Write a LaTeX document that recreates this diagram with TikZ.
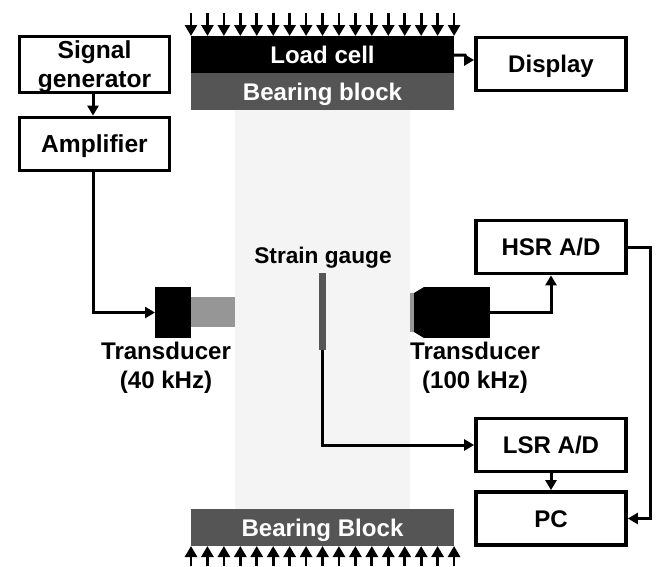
\documentclass[tikz,border=0pt]{standalone}
\usepackage{fontspec}
\setmainfont{Liberation Sans}
\usetikzlibrary{arrows.meta}
\definecolor{blockgray}{HTML}{555555}
\definecolor{horngray}{HTML}{969696}
\definecolor{samplegray}{HTML}{F4F4F4}
\tikzset{
	lbl/.style={font=\fontsize{13.7}{16.4}\selectfont\bfseries,align=center,inner sep=0pt},
	capline/.style={text height=9.8pt,text depth=0pt},
	box/.style={lbl,draw=black,fill=white,line width=0.075cm,minimum width=3.0cm,minimum height=1.06cm,outer sep=0.0375cm},
	block/.style={lbl,capline,text=white,minimum width=5.26cm,minimum height=0.74cm,inner sep=0pt,outer sep=0pt},
	conn/.style={line width=0.06cm,-{Triangle[length=0.2cm,width=0.22cm]}},
	load/.style={line width=0.055cm,-{Triangle[length=0.22cm,width=0.24cm]}}
}
\begin{document}
\begin{tikzpicture}[x=0.02cm,y=-0.02cm]
	\useasboundingbox (0,0) rectangle (660,566);

	% Draw the sample
	\fill [samplegray] (235,110) rectangle (410,509);

	% Draw the blocks
	\node [block,fill=black] (loadcell) at (322.5,54.5) {Load cell};
	\node [block,fill=blockgray] (bearingtop) at (322.5,91.5) {Bearing block};
	\node [block,fill=blockgray] (bearingbot) at (322.5,527.5) {Bearing Block};

	% Draw the boxes
	\node [box,font=\fontsize{14}{16.5}\selectfont\bfseries] (signal) at (94.5,64.5) {\rule{0pt}{12.5pt}Signal\\generator};
	\node [box,capline,font=\fontsize{14}{16.5}\selectfont\bfseries] (amp) at (94.5,144) {Amplifier};
	\node [box,capline] (display) at (551,64) {Display};
	\node [box,capline] (hsr) at (551,247) {HSR A/D};
	\node [box,capline] (lsr) at (551,445) {LSR A/D};
	\node [box,capline] (pc) at (551,518.5) {PC};

	% Draw the left transducer
	\node [fill=black,minimum width=0.72cm,minimum height=1.02cm,inner sep=0pt,outer sep=0pt] (srcbody) at (173,312.5) {};
	\node [fill=horngray,minimum width=0.88cm,minimum height=0.6cm,inner sep=0pt,outer sep=0pt] (srchorn) at (213,312) {};
	\node [lbl] (srclabel) at (166,368) {Transducer\\(40 kHz)};

	% Draw the right transducer
	\fill [horngray] (410,293) rectangle (414,332);
	\fill [black] (414,293) -- (424,287) -- (424,338) -- (414,332) -- cycle;
	\node [fill=black,minimum width=1.32cm,minimum height=1.02cm,inner sep=0pt,outer sep=0pt] (recbody) at (457,312.5) {};
	\node [lbl] (reclabel) at (475,368) {Transducer\\(100 kHz)};

	% Draw the strain gauge
	\node [fill=blockgray,minimum width=0.14cm,minimum height=1.54cm,inner sep=0pt,outer sep=0pt] (gauge) at (322.5,311.5) {};
	\node [lbl,font=\fontsize{12.9}{16}\selectfont\bfseries] (gaugelabel) at (323,258) {Strain gauge};

	% Draw the connectors
	\coordinate (lcout) at (454,55);
	\coordinate (lcbend) at (465,55);
	\coordinate (dispin) at (467,60);
	\draw [conn] (signal.south -| 93,0) -- (amp.north -| 93,0);
	\draw [conn] (lcout) -- (lcbend) -- (dispin) -- (dispin -| display.west);
	\draw [conn] (amp.south -| 93,0) |- (srcbody.west);
	\draw [conn] (recbody.east) -| (hsr.south);
	\draw [conn] (gauge.south) |- (lsr.west);
	\draw [conn] (lsr.south) -- (pc.north);
	\draw [conn] (hsr.east) -- ++(23,0) |- (pc.east);

	% Draw the load arrows
	\foreach \i in {0,...,16} {
		\coordinate (top\i) at (191+16.44*\i,13);
		\coordinate (bot\i) at (191+16.44*\i,566);
		\draw [load] (top\i) -- (loadcell.north -| top\i);
		\draw [load] (bot\i) -- (bearingbot.south -| bot\i);
	}
\end{tikzpicture}
\end{document}
